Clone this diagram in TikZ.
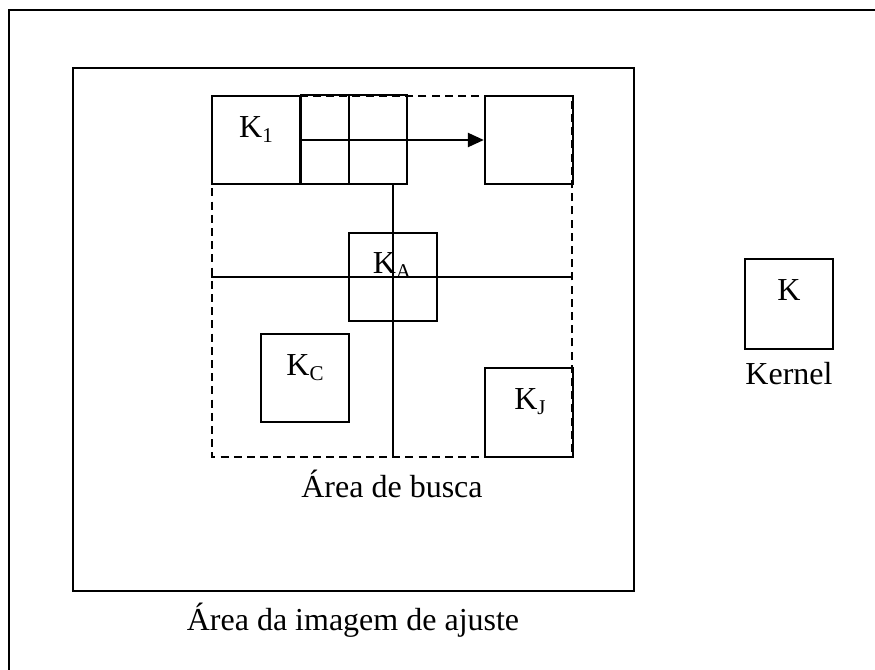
\documentclass[tikz,border=0pt]{standalone}
\usepackage{fontspec}
\setmainfont{Liberation Serif}
\usetikzlibrary{arrows.meta}
% subscript in the style of a word processor
\newcommand\ksub[1]{\raisebox{-0.16em}{\fontsize{10.5}{12}\selectfont #1}}
\tikzset{
  base/.style={line width=1.15pt, line cap=rect},
  kbox/.style={base, draw, rectangle, minimum width=44pt, minimum height=44pt, inner sep=0pt},
  searchline/.style={line width=1.15pt, dash pattern=on 4pt off 2.6pt},
  lbl/.style={anchor=base, inner sep=0pt, font=\fontsize{16}{19}\selectfont},
}
\begin{document}
\begin{tikzpicture}[x=0.5pt,y=-0.5pt]
\useasboundingbox (0,0) rectangle (875,670);
% outer frame (runs off the page on the right and bottom)
\draw[base] (9,10) rectangle (890,690);
% adjustment image area
\draw[base] (73,68) rectangle (634,591);
\node[lbl] (lblimg) at (353,630) {Área da imagem de ajuste};
% search area
\draw[searchline] (212,96) rectangle (572,457);
\coordinate (hl) at (212,277);
\coordinate (hr) at (572,277);
\coordinate (vt) at (393,184);
\coordinate (vb) at (393,457);
\draw[base] (hl) -- (hr);
\draw[base] (vt) -- (vb);
\node[lbl] (lblsearch) at (392,497) {Área de busca};
% kernel positions
\node[kbox] (k1) at (256,140) {};
\node[kbox] (kend) at (529,140) {};
\node[kbox] (ka) at (393,277) {};
\node[kbox] (kc) at (305,378) {};
\node[kbox, minimum height=44.5pt] (kj) at (529,412.5) {};
% sliding steps next to K1
\draw[base] (k1.north east) rectangle (407,184);
\draw[base] (349,96) -- (349,184);
\draw[base, -{Triangle[length=8pt,width=7pt]}] (k1.east) -- (kend.west);
\node[lbl] (t1) at (256,137) {K\ksub{1}};
\node[lbl] (ta) at (392,273) {K\ksub{A}};
\node[lbl] (tc) at (305,375) {K\ksub{C}};
\node[lbl] (tj) at (530,409) {K\ksub{J}};
% kernel
\node[kbox, minimum height=45pt] (k) at (789,304) {};
\node[lbl] (tk) at (789,300) {K};
\node[lbl] (tkern) at (789,384) {Kernel};
\end{tikzpicture}
\end{document}
